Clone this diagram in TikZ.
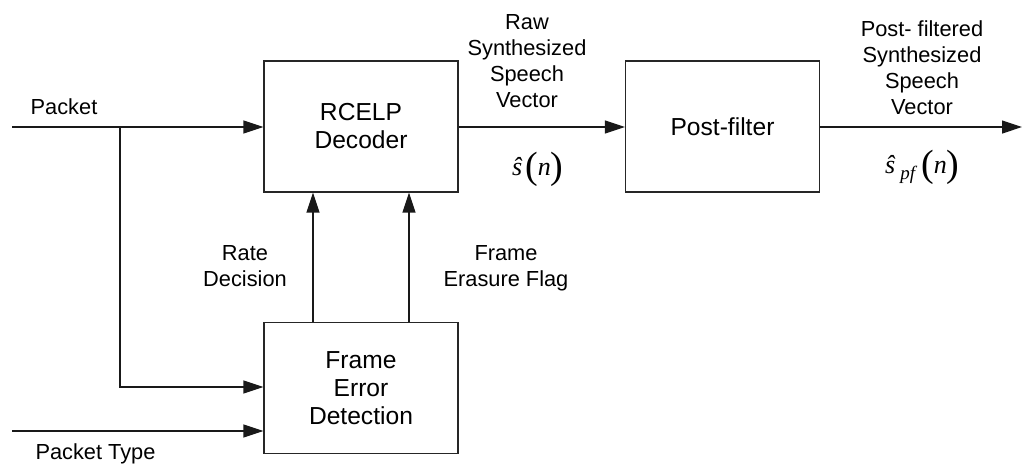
\documentclass[tikz,border=0pt]{standalone}
\usepackage{fontspec}
\setmainfont{Liberation Sans}
\newfontfamily\tnr{Liberation Serif}
\newcommand{\bigpar}[1]{\raisebox{-3.8pt}{\fontsize{38}{38}\selectfont\upshape #1}}
\usetikzlibrary{arrows.meta}
\begin{document}
\begin{tikzpicture}[x=1pt,y=-1pt,
  blockbox/.style={draw=black!85, line width=1.1pt, minimum width=194pt, minimum height=131pt,
    align=center, inner sep=0pt, font=\fontsize{24.6}{28}\selectfont},
  lbl/.style={align=center, inner sep=0pt, font=\fontsize{21.8}{26}\selectfont},
  mth/.style={inner sep=0pt, anchor=base west, font=\tnr\itshape\fontsize{26}{26}\selectfont},
  conn/.style={draw=black!90, line width=1.2pt},
  arr/.style={conn, -{Triangle[length=20pt,width=13pt]}}]
\useasboundingbox (0,0) rectangle (1022,464);
% blocks
\node[blockbox] (dec) at (361,126.5) {RCELP\\Decoder};
\node[blockbox] (pf) at (722.5,126.5) {Post-filter};
\node[blockbox] (fed) at (361,388) {Frame\\Error\\Detection};
% endpoints
\coordinate (pin) at (12,127);
\coordinate (br) at (120,127);
\coordinate (ptin) at (12,431);
\coordinate (out) at (1022,127);
% connectors
\draw[arr] (pin) -- (dec.west |- pin);
\draw[arr] (br) -- (br |- 0,387) -- (fed.west |- 0,387);
\draw[arr] (ptin) -- (fed.west |- ptin);
\draw[arr] (fed.north -| 313,0) -- (dec.south -| 313,0);
\draw[arr] (fed.north -| 409,0) -- (dec.south -| 409,0);
\draw[arr] (dec.east |- 0,127) -- (pf.west |- 0,127);
\draw[arr] (pf.east |- out) -- (out);
% labels
\node[lbl] (lpacket) at (64,107) {Packet};
\node[lbl] (lptype) at (95.5,454) {Packet Type};
\node[lbl] (lrate) at (245,266) {Rate\\Decision};
\node[lbl] (lflag) at (506,268) {Frame\\Erasure Flag};
\node[lbl] (lraw) at (527,61) {Raw\\Synthesized\\Speech\\Vector};
\node[lbl] (lpost) at (922,68) {Post- filtered\\Synthesized\\Speech\\Vector};
\node[mth] (sraw) at (512,175) {ŝ\hspace{3pt}\bigpar{(}n\bigpar{)}};
\node[mth] (spf) at (885,173) {ŝ\hspace{5pt}\raisebox{-6pt}{\fontsize{19}{19}\selectfont pf}\hspace{6pt}\bigpar{(}n\bigpar{)}};
\end{tikzpicture}
\end{document}
